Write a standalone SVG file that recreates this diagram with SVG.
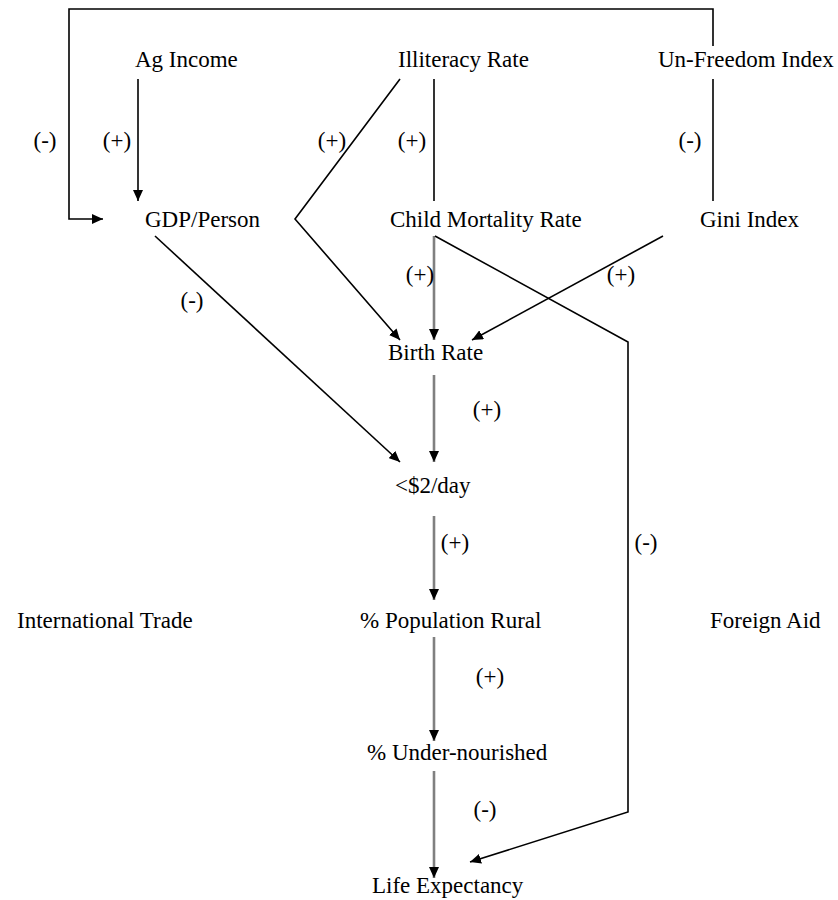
<svg xmlns="http://www.w3.org/2000/svg" width="838" height="900" viewBox="0 0 838 900">
<style>
text{font-family:"Liberation Serif","Times New Roman",serif;font-size:23px;fill:#000}
.c{fill:none;stroke:#000;stroke-width:1.6}
.g{fill:none;stroke:#808080;stroke-width:2.6}
</style>
<defs>
<marker id="ah" markerUnits="userSpaceOnUse" markerWidth="12" markerHeight="10" refX="11" refY="5" orient="auto">
<path d="M0,0 L11,5 L0,10 z" fill="#000"/>
</marker>
</defs>
<rect width="838" height="900" fill="#fff"/>
<g id="connectors">
<line class="c" x1="138" y1="79" x2="138" y2="201" marker-end="url(#ah)"/>
<polyline class="c" points="713,46 713,9 69,9 69,219 103,219" marker-end="url(#ah)"/>
<polyline class="c" points="400,79 295,219 400,340" marker-end="url(#ah)"/>
<line class="c" x1="434" y1="79" x2="434" y2="201"/>
<line class="c" x1="713" y1="79" x2="713" y2="201"/>
<line class="g" x1="434" y1="236" x2="434" y2="340" marker-end="url(#ah)"/>
<polyline class="c" points="435,236 628,342 628,812 470,862" marker-end="url(#ah)"/>
<line class="c" x1="663" y1="236" x2="472" y2="340" marker-end="url(#ah)"/>
<line class="c" x1="155" y1="236" x2="400" y2="462" marker-end="url(#ah)"/>
<line class="g" x1="434" y1="375" x2="434" y2="462" marker-end="url(#ah)"/>
<line class="g" x1="434" y1="516" x2="434" y2="600" marker-end="url(#ah)"/>
<line class="g" x1="434" y1="637" x2="434" y2="741" marker-end="url(#ah)"/>
<line class="g" x1="434" y1="771" x2="434" y2="878" marker-end="url(#ah)"/>
</g>
<g id="labels">
<text x="45" y="148" text-anchor="middle">(-)</text>
<text x="117" y="148" text-anchor="middle">(+)</text>
<text x="332" y="148" text-anchor="middle">(+)</text>
<text x="412" y="148" text-anchor="middle">(+)</text>
<text x="690" y="148" text-anchor="middle">(-)</text>
<text x="420" y="282" text-anchor="middle">(+)</text>
<text x="621" y="282" text-anchor="middle">(+)</text>
<text x="192" y="308" text-anchor="middle">(-)</text>
<text x="487" y="417" text-anchor="middle">(+)</text>
<text x="455" y="550" text-anchor="middle">(+)</text>
<text x="646" y="550" text-anchor="middle">(-)</text>
<text x="490" y="684" text-anchor="middle">(+)</text>
<text x="485" y="817" text-anchor="middle">(-)</text>
</g>
<g id="ag-income"><text x="135" y="67">Ag Income</text></g>
<g id="illiteracy-rate"><text x="398" y="67">Illiteracy Rate</text></g>
<g id="un-freedom-index"><text x="658" y="67">Un-Freedom Index</text></g>
<g id="gdp-person"><text x="145" y="227">GDP/Person</text></g>
<g id="child-mortality-rate"><text x="390" y="227">Child Mortality Rate</text></g>
<g id="gini-index"><text x="700" y="227">Gini Index</text></g>
<g id="birth-rate"><text x="388" y="360">Birth Rate</text></g>
<g id="under-2-day"><text x="395" y="493">&lt;$2/day</text></g>
<g id="international-trade"><text x="17" y="628">International Trade</text></g>
<g id="population-rural"><text x="360" y="628">% Population Rural</text></g>
<g id="foreign-aid"><text x="710" y="628">Foreign Aid</text></g>
<g id="under-nourished"><text x="367" y="760">% Under-nourished</text></g>
<g id="life-expectancy"><text x="372" y="893">Life Expectancy</text></g>
</svg>
